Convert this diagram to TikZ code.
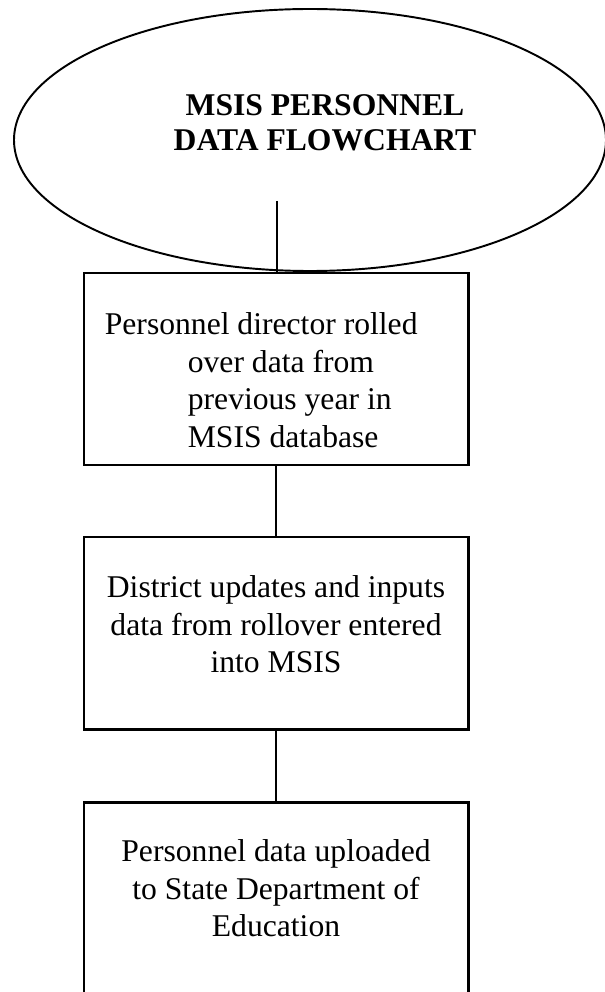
\documentclass[tikz,border=0pt]{standalone}
\usepackage{fontspec}
\setmainfont{Liberation Serif}
\usetikzlibrary{positioning, shapes.geometric}

\begin{document}
\begin{tikzpicture}[
        stepbox/.style={draw, line width=1.7pt, rectangle, minimum width=7.68cm, minimum height=3.84cm, inner sep=0pt},
        steptext/.style={inner sep=0pt, font=\fontsize{18pt}{21.5pt}\selectfont},
        link/.style={line width=1.7pt}
    ]

        \useasboundingbox (0, 0) rectangle (12.08, -19.84);

        \node[draw, line width=1.1pt, ellipse, minimum width=11.84cm, minimum height=5.24cm, inner sep=0pt] (start) at (6.2, -2.8) {};
        \node[inner sep=0pt, anchor=north, align=center, font=\fontsize{18pt}{20pt}\selectfont\bfseries] (title) at (6.5, -1.88) {MSIS PERSONNEL\\DATA FLOWCHART};

        \node[stepbox] (rolled) at (5.52, -7.38) {};
        \node[stepbox] (updates) at (5.52, -12.66) {};
        \node[stepbox] (uploaded) at (5.52, -17.96) {};

        \node[steptext, align=left, below right=0.81cm and 2.1cm of rolled.north west] (rolledtext) {\hspace*{-1.66cm}Personnel director rolled\\over data from\\previous year in\\MSIS database};
        \node[steptext, align=center, below=0.79cm of updates.north] (updatestext) {District updates and inputs\\data from rollover entered\\into MSIS};
        \node[steptext, align=center, below=0.77cm of uploaded.north] (uploadedtext) {Personnel data uploaded\\to State Department of\\Education};

        % stem starts inside the ellipse
        \coordinate (stem) at (5.54, -4.02);
        \draw[link] (stem) -- (stem |- rolled.north);
        \draw[link] (rolled) -- (updates);
        \draw[link] (updates) -- (uploaded);

    \end{tikzpicture}
\end{document}
